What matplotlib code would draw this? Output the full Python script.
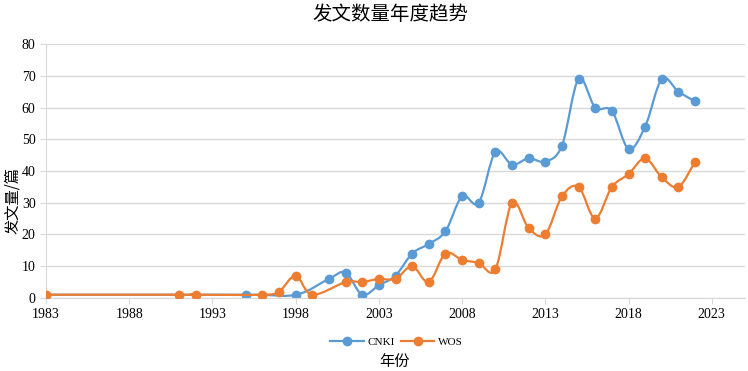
import matplotlib.pyplot as plt
import numpy as np
from matplotlib.path import Path
from matplotlib.patches import PathPatch
from matplotlib.lines import Line2D

plt.rcParams['font.family'] = ['Liberation Serif', 'Noto Sans CJK SC']

# data
cnki_years = [1983, 1995, 1998, 2000, 2001, 2002, 2003, 2004, 2005, 2006, 2007, 2008,
              2009, 2010, 2011, 2012, 2013, 2014, 2015, 2016, 2017, 2018, 2019, 2020,
              2021, 2022]
cnki_counts = [1, 1, 1, 6, 8, 1, 4, 7, 14, 17, 21, 32,
               30, 46, 42, 44, 43, 48, 69, 60, 59, 47, 54, 69,
               65, 62]
wos_years = [1983, 1991, 1992, 1996, 1997, 1998, 1999, 2001, 2002, 2003, 2004, 2005,
             2006, 2007, 2008, 2009, 2010, 2011, 2012, 2013, 2014, 2015, 2016, 2017,
             2018, 2019, 2020, 2021, 2022]
wos_counts = [1, 1, 1, 1, 2, 7, 1, 5, 5, 6, 6, 10,
              5, 14, 12, 11, 9, 30, 22, 20, 32, 35, 25, 35,
              39, 44, 38, 35, 43]

blue = '#5B9BD5'
orange = '#ED7D31'


def smooth_path(xs, ys):
    # Catmull-Rom style bezier through the points (like Excel smoothed lines)
    pts = np.column_stack([xs, ys]).astype(float)
    verts = [pts[0]]
    codes = [Path.MOVETO]
    n = len(pts)
    for i in range(n - 1):
        p0 = pts[i - 1] if i > 0 else pts[i]
        p1 = pts[i]
        p2 = pts[i + 1]
        p3 = pts[i + 2] if i + 2 < n else pts[i + 1]
        c1 = p1 + (p2 - p0) / 6.0
        c2 = p2 - (p3 - p1) / 6.0
        verts += [c1, c2, p2]
        codes += [Path.CURVE4] * 3
    return Path(verts, codes)


fig = plt.figure(figsize=(7.48, 3.71), dpi=100)
ax = fig.add_axes([0.0615, 0.197, 0.9345, 0.684])

for xs, ys, c, z in [(wos_years, wos_counts, orange, 3), (cnki_years, cnki_counts, blue, 2)]:
    ax.add_patch(PathPatch(smooth_path(xs, ys), facecolor='none', edgecolor=c,
                           lw=1.6, zorder=z, capstyle='round', joinstyle='round'))
    ax.plot(xs, ys, 'o', color=c, ms=6, zorder=z + 0.5)

ax.set_xlim(1983, 2025)
ax.set_ylim(0, 80)
ax.set_xticks(np.arange(1983, 2024, 5))
ax.set_yticks(np.arange(0, 81, 10))
ax.yaxis.grid(True, color='#D9D9D9', lw=1)
ax.set_axisbelow(True)
for s in ['top', 'right']:
    ax.spines[s].set_visible(False)
ax.spines['left'].set_color('#D9D9D9')
ax.spines['bottom'].set_color('#D9D9D9')
ax.tick_params(axis='both', colors='#D9D9D9', labelcolor='black', labelsize=10, length=4)

fig.text(0.522, 0.962, '发文数量年度趋势', ha='center', va='center', fontsize=14,
         family=['Noto Sans CJK SC'])
fig.text(0.017, 0.46, '发文量/篇', rotation=90, ha='center', va='center', fontsize=11,
         family=['Noto Sans CJK SC'])
fig.text(0.528, 0.025, '年份', ha='center', va='center', fontsize=11,
         family=['Noto Sans CJK SC'])

handles = [Line2D([], [], color=blue, marker='o', ms=6, lw=1.6),
           Line2D([], [], color=orange, marker='o', ms=6, lw=1.6)]
fig.legend(handles, ['CNKI', 'WOS'], loc='center', bbox_to_anchor=(0.53, 0.078),
           ncol=2, frameon=False, fontsize=8, handlelength=3, columnspacing=0.6,
           handletextpad=0.3)

fig.savefig('out.png', dpi=100)
